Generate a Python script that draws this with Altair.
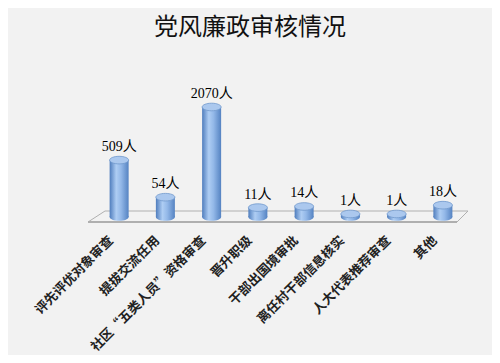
import altair as alt
import pandas as pd

title_text = "党风廉政审核情况"
categories = ["评先评优对象审查", "提拔交流任用", "社区“五类人员”资格审查", "晋升职级",
              "干部出国境审批", "离任村干部信息核实", "人大代表推荐审查", "其他"]
values = [509, 54, 2070, 11, 14, 1, 1, 18]
labels = [f"{v}人" for v in values]

df = pd.DataFrame({"cat": categories, "value": values, "label": labels, "zero": [0] * len(values)})

ELL = ("M-1,0 C-1,-0.22 -0.552,-0.4 0,-0.4 C0.552,-0.4 1,-0.22 1,0 "
       "C1,0.22 0.552,0.4 0,0.4 C-0.552,0.4 -1,0.22 -1,0 Z")

x = alt.X("cat:N", sort=categories,
          scale=alt.Scale(paddingInner=0, paddingOuter=0),
          axis=alt.Axis(title=None, labelAngle=315, labelAlign="right", labelBaseline="middle",
                        labelPadding=21, labelOffset=-8, domain=False, ticks=False,
                        labelFont="Noto Sans CJK SC", labelFontSize=13, labelFontWeight="bold",
                        labelColor="#222", labelLimit=300))
yscale = alt.Scale(type="pow", exponent=0.47, domain=[0, 2070], nice=False)
y = alt.Y("value:Q", scale=yscale, axis=None)
y0 = alt.Y("zero:Q", scale=yscale, axis=None)

grad = alt.Gradient(gradient="linear", x1=0, x2=1, y1=0, y2=0,
                    stops=[alt.GradientStop(offset=0, color="#4f7dbd"),
                           alt.GradientStop(offset=0.35, color="#aecdf3"),
                           alt.GradientStop(offset=0.6, color="#93b8e8"),
                           alt.GradientStop(offset=1, color="#5583c2")])

base = alt.Chart(df)

bottom = base.mark_point(shape=ELL, size=361, filled=True, color=grad, opacity=1).encode(x=x, y=y0)
bars = base.mark_bar(size=19, color=grad).encode(x=x, y=y)
tops = base.mark_point(shape=ELL, size=361, filled=True, color="#abc8ee", opacity=1,
                       stroke="#7098cc", strokeWidth=0.8).encode(x=x, y=y)
text = base.mark_text(baseline="alphabetic", dy=-9, font="Liberation Serif, Noto Sans CJK SC",
                      fontSize=14, color="#000").encode(x=x, y=y, text="label:N")

one = pd.DataFrame({"t": [title_text]})
title = alt.Chart(one).mark_text(font="Noto Sans CJK SC", fontSize=24, fontWeight="normal",
                                 color="#111", align="center", baseline="middle").encode(
    x=alt.value(154), y=alt.value(-79), text="t:N")
floor_top = alt.Chart(one).mark_rule(color="#b0b0b0", strokeWidth=1).encode(
    x=alt.value(9), x2=alt.value(372), y=alt.value(104), y2=alt.value(104))
floor_bot = alt.Chart(one).mark_rule(color="#999999", strokeWidth=1.5).encode(
    x=alt.value(-8), x2=alt.value(361), y=alt.value(115), y2=alt.value(115))
floor_l = alt.Chart(one).mark_rule(color="#b0b0b0", strokeWidth=1).encode(
    x=alt.value(9), x2=alt.value(-8), y=alt.value(104), y2=alt.value(115))
floor_r = alt.Chart(one).mark_rule(color="#b0b0b0", strokeWidth=1).encode(
    x=alt.value(372), x2=alt.value(361), y=alt.value(104), y2=alt.value(115))

chart = alt.layer(title, floor_top, floor_bot, floor_l, floor_r, bottom, bars, tops, text).properties(
    width=370, height=110,
    padding={"left": 88, "top": 99, "right": 26, "bottom": 138},
    autosize=alt.AutoSizeParams(type="none"),
).configure(background="#f2f2f2").configure_view(stroke=None)

chart.save("out.html", embed_options={"renderer": "svg", "actions": False})
